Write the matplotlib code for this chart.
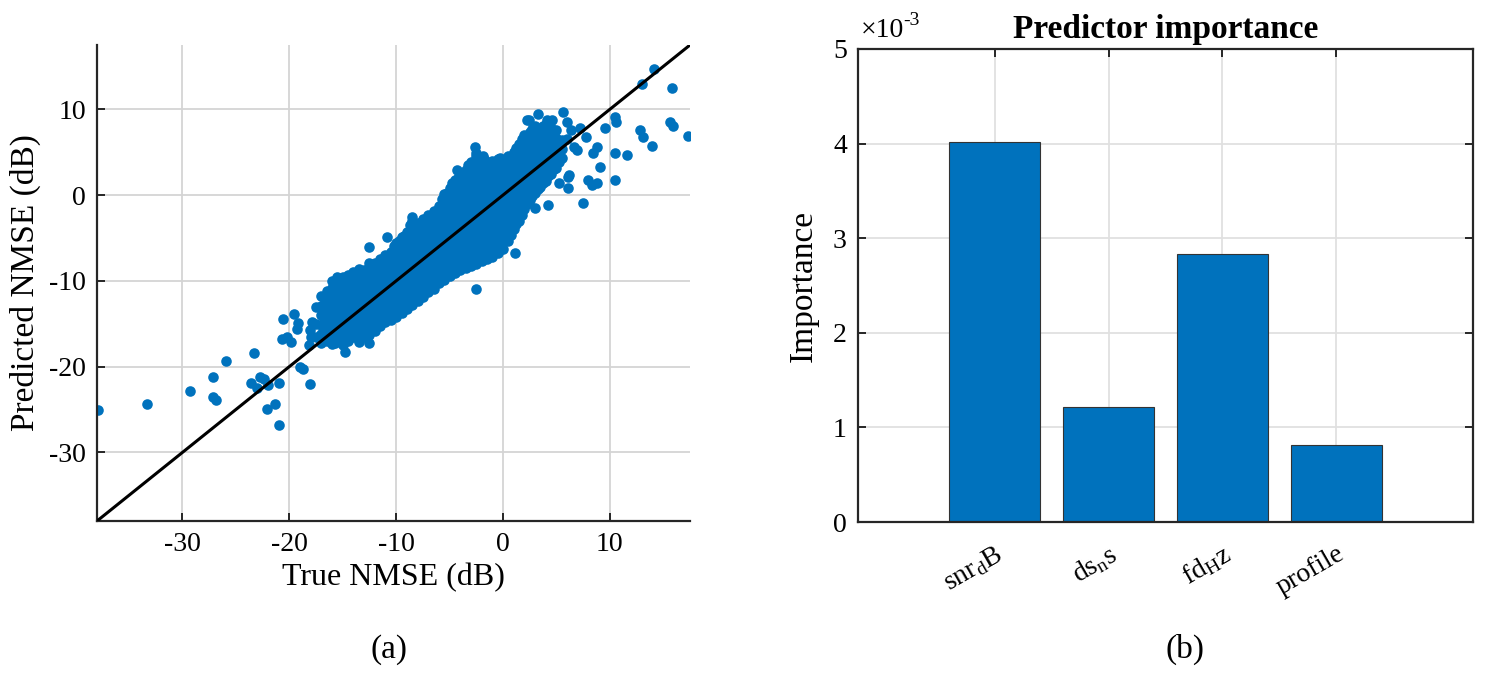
import numpy as np
import matplotlib.pyplot as plt
from matplotlib.ticker import FuncFormatter

plt.rcParams['font.family'] = ['Liberation Serif', 'DejaVu Serif']
plt.rcParams['mathtext.fontset'] = 'custom'
plt.rcParams['mathtext.rm'] = 'Liberation Serif'
plt.rcParams['mathtext.it'] = 'Liberation Serif:italic'
plt.rcParams['axes.unicode_minus'] = False

# ---- panel (a): true vs predicted NMSE (dB) ----
# dense core of the cloud, one column per true-NMSE value
core = {
    -17.0: [-17.3, -16.2, -15.1, -14.0, -12.9, -11.8],
    -16.5: [-17.0, -15.8, -14.6, -13.5, -12.3, -11.2],
    -16.0: [-17.4, -16.3, -15.2, -14.1, -13.0, -11.9, -10.8, -10.0],
    -15.5: [-16.9, -15.7, -14.6, -13.5, -12.4, -11.3, -10.2, -9.5],
    -15.0: [-17.5, -16.4, -15.2, -14.0, -12.9, -11.8, -10.7, -9.6],
    -14.5: [-17.0, -15.9, -14.8, -13.7, -12.6, -11.5, -10.4, -9.3],
    -14.0: [-16.6, -15.4, -14.2, -13.1, -12.0, -10.9, -9.8, -9.0],
    -13.5: [-17.1, -16.0, -14.9, -13.7, -12.6, -11.5, -10.4, -9.3, -8.6],
    -13.0: [-16.6, -15.4, -14.3, -13.2, -12.0, -10.9, -9.8, -8.7],
    -12.5: [-16.3, -15.2, -14.0, -12.9, -11.8, -10.7, -9.5, -8.4, -7.9],
    -12.0: [-15.8, -14.6, -13.5, -12.4, -11.3, -10.1, -9.0, -7.9],
    -11.5: [-15.3, -14.1, -13.0, -11.9, -10.8, -9.7, -8.5, -7.4],
    -11.0: [-14.8, -13.6, -12.5, -11.4, -10.3, -9.1, -8.0, -7.0],
    -10.5: [-14.6, -13.4, -12.3, -11.1, -10.0, -8.9, -7.7, -6.6],
    -10.0: [-14.2, -13.1, -11.9, -10.8, -9.7, -8.5, -7.4, -6.3, -5.6],
    -9.5: [-13.8, -12.7, -11.5, -10.4, -9.3, -8.1, -7.0, -5.9, -4.9],
    -9.0: [-13.3, -12.1, -11.0, -9.9, -8.7, -7.6, -6.5, -5.3, -4.3],
    -8.5: [-12.8, -11.7, -10.6, -9.4, -8.3, -7.2, -6.0, -4.9, -3.8, -3.0],
    -8.0: [-12.3, -11.2, -10.0, -8.9, -7.8, -6.6, -5.5, -4.4, -3.3],
    -7.5: [-11.9, -10.7, -9.6, -8.4, -7.3, -6.2, -5.0, -3.9, -2.8],
    -7.0: [-11.3, -10.2, -9.0, -7.9, -6.8, -5.6, -4.5, -3.4, -2.3],
    -6.5: [-10.9, -9.7, -8.6, -7.4, -6.3, -5.2, -4.0, -2.9, -1.8],
    -6.0: [-10.3, -9.2, -8.0, -6.9, -5.8, -4.6, -3.5, -2.4, -1.3],
    -5.5: [-9.9, -8.7, -7.6, -6.4, -5.3, -4.2, -3.0, -1.9, -0.8, 0.1],
    -5.0: [-9.4, -8.2, -7.1, -6.0, -4.8, -3.7, -2.6, -1.4, -0.3, 0.8],
    -4.5: [-9.1, -7.9, -6.8, -5.6, -4.5, -3.4, -2.2, -1.1, 0.0, 1.2, 1.8],
    -4.0: [-8.7, -7.5, -6.4, -5.3, -4.1, -3.0, -1.9, -0.7, 0.4, 1.5, 2.4],
    -3.5: [-8.5, -7.3, -6.2, -5.0, -3.9, -2.8, -1.6, -0.5, 0.6, 1.8, 2.9],
    -3.0: [-8.3, -7.1, -6.0, -4.9, -3.7, -2.6, -1.5, -0.3, 0.8, 1.9, 3.0, 3.9],
    -2.5: [-8.0, -6.8, -5.7, -4.6, -3.4, -2.3, -1.2, 0.0, 1.1, 2.2, 3.4, 4.5],
    -2.0: [-7.7, -6.6, -5.4, -4.3, -3.2, -2.0, -0.9, 0.2, 1.4, 2.5, 3.6, 4.4],
    -1.5: [-7.5, -6.3, -5.2, -4.1, -2.9, -1.8, -0.7, 0.5, 1.6, 2.7, 3.8],
    -1.0: [-7.2, -6.1, -4.9, -3.8, -2.7, -1.5, -0.4, 0.7, 1.9, 3.0, 4.0],
    -0.5: [-6.8, -5.6, -4.5, -3.4, -2.2, -1.1, 0.0, 1.2, 2.3, 3.4, 4.2],
    0.0: [-6.3, -5.2, -4.0, -2.9, -1.8, -0.6, 0.5, 1.6, 2.8, 3.9],
    0.5: [-5.4, -4.2, -3.1, -2.0, -0.8, 0.3, 1.4, 2.6, 3.7, 4.6],
    1.0: [-4.0, -2.9, -1.7, -0.6, 0.5, 1.7, 2.8, 3.9, 5.0],
    1.5: [-3.0, -1.9, -0.8, 0.4, 1.5, 2.6, 3.8, 4.9, 5.9],
    2.0: [-1.6, -0.5, 0.7, 1.8, 2.9, 4.1, 5.2, 6.3, 7.0],
    2.5: [-0.6, 0.5, 1.6, 2.8, 3.9, 5.0, 6.2, 7.3],
    3.0: [0.2, 1.3, 2.5, 3.6, 4.7, 5.9, 7.0, 8.1],
    3.5: [0.9, 2.0, 3.2, 4.3, 5.4, 6.6, 7.7],
    4.0: [1.7, 2.9, 4.0, 5.1, 6.3, 7.4, 8.3],
    4.5: [2.5, 3.6, 4.7, 5.9, 7.0, 7.8],
    5.0: [3.2, 4.4, 5.5, 6.6],
    5.5: [4.3, 5.4, 6.4],
}

# in-between columns that close the gaps of the core
core_mid = {
    -16.75: [-16.6, -15.4, -14.3, -13.2, -12.0],
    -16.25: [-16.8, -15.7, -14.6, -13.5, -12.4, -11.3],
    -15.75: [-17.2, -16.1, -15.0, -13.9, -12.8, -11.7, -10.6],
    -15.25: [-16.9, -15.8, -14.6, -13.5, -12.4, -11.3, -10.2],
    -14.75: [-16.9, -15.7, -14.6, -13.5, -12.3, -11.2, -10.1],
    -14.25: [-16.2, -15.1, -14.0, -12.8, -11.7, -10.6, -9.5],
    -13.75: [-16.5, -15.4, -14.3, -13.1, -12.0, -10.9, -9.8],
    -13.25: [-16.0, -14.9, -13.8, -12.6, -11.5, -10.4, -9.3],
    -12.75: [-15.8, -14.7, -13.5, -12.4, -11.3, -10.2, -9.0],
    -12.25: [-15.3, -14.2, -13.0, -11.9, -10.8, -9.6, -8.5],
    -11.75: [-14.8, -13.7, -12.5, -11.4, -10.3, -9.1, -8.0],
    -11.25: [-14.3, -13.2, -12.0, -10.9, -9.8, -8.6, -7.5],
    -10.75: [-14.0, -12.9, -11.7, -10.6, -9.5, -8.3, -7.2],
    -10.25: [-13.7, -12.5, -11.4, -10.3, -9.1, -8.0, -6.9, -5.9],
    -9.75: [-13.3, -12.2, -11.0, -9.9, -8.8, -7.6, -6.5, -5.4],
    -9.25: [-12.8, -11.6, -10.5, -9.4, -8.2, -7.1, -6.0, -4.8],
    -8.75: [-12.3, -11.2, -10.0, -8.9, -7.8, -6.6, -5.5, -4.4, -3.5],
    -8.25: [-11.8, -10.7, -9.5, -8.4, -7.3, -6.1, -5.0, -3.9],
    -7.75: [-11.4, -10.2, -9.1, -7.9, -6.8, -5.7, -4.5, -3.4],
    -7.25: [-10.8, -9.7, -8.5, -7.4, -6.3, -5.1, -4.0, -2.9],
    -6.75: [-10.4, -9.2, -8.1, -6.9, -5.8, -4.7, -3.5, -2.4],
    -6.25: [-9.8, -8.7, -7.5, -6.4, -5.3, -4.1, -3.0, -1.9],
    -5.75: [-9.4, -8.2, -7.1, -5.9, -4.8, -3.7, -2.5, -1.4, -0.4],
    -5.25: [-8.9, -7.7, -6.6, -5.5, -4.3, -3.2, -2.1, -0.9, 0.2],
    -4.75: [-8.6, -7.4, -6.3, -5.1, -4.0, -2.9, -1.7, -0.6, 0.6, 1.4],
    -4.25: [-8.2, -7.0, -5.9, -4.8, -3.6, -2.5, -1.4, -0.2, 0.9, 2.0],
    -3.75: [-8.0, -6.8, -5.7, -4.5, -3.4, -2.3, -1.1, 0.0, 1.2, 2.3],
    -3.25: [-7.7, -6.6, -5.4, -4.3, -3.2, -2.0, -0.9, 0.2, 1.4, 2.5, 3.5],
    -2.75: [-7.4, -6.3, -5.2, -4.0, -2.9, -1.8, -0.6, 0.5, 1.6, 2.8, 3.9],
    -2.25: [-7.2, -6.0, -4.9, -3.8, -2.6, -1.5, -0.4, 0.8, 1.9, 3.0, 4.0],
    -1.75: [-6.9, -5.8, -4.6, -3.5, -2.4, -1.2, -0.1, 1.0, 2.2, 3.3, 4.2],
    -1.25: [-6.7, -5.6, -4.4, -3.3, -2.2, -1.0, 0.1, 1.2, 2.4, 3.5],
    -0.75: [-6.4, -5.2, -4.1, -3.0, -1.8, -0.7, 0.5, 1.6, 2.7, 3.8],
    -0.25: [-5.8, -4.7, -3.5, -2.4, -1.3, -0.1, 1.0, 2.1, 3.3],
    0.25: [-4.8, -3.7, -2.5, -1.4, -0.3, 0.9, 2.0, 3.1, 4.2],
    0.75: [-4.6, -3.5, -2.3, -1.2, -0.1, 1.1, 2.2, 3.3, 4.4],
    1.25: [-3.4, -2.3, -1.2, 0.0, 1.1, 2.2, 3.4, 4.5, 5.5],
    1.75: [-2.3, -1.2, 0.0, 1.1, 2.2, 3.4, 4.5, 5.6, 6.5],
    2.25: [-1.0, 0.1, 1.2, 2.4, 3.5, 4.6, 5.8, 6.8],
    2.75: [-0.1, 1.0, 2.1, 3.3, 4.4, 5.5, 6.7, 7.7],
    3.25: [0.7, 1.8, 3.0, 4.1, 5.2, 6.4, 7.5],
    3.75: [1.4, 2.5, 3.7, 4.8, 5.9, 7.1, 8.0],
    4.25: [2.2, 3.3, 4.4, 5.6, 6.7, 7.7],
    4.75: [3.0, 4.1, 5.2, 6.3, 7.3],
    5.25: [3.8, 4.9, 6.0],
}

# scattered points outside the core
sparse_true = [-37.9, -33.3, -29.3, -27.1, -27.1, -26.9, -25.9, -23.3, -23.6, -22.7,
               -22.4, -23.05, -22.0, -21.0, -22.1, -21.3, -21.0, -19.0, -18.7, -18.1,
               -20.6, -19.6, -19.2, -19.3, -20.7, -20.25, -19.8, -18.1, -17.9, -18.2,
               -17.5, -17.5, -17.5, -18.0, -16.8, -14.8, -12.5, -12.5, -10.9, -8.55,
               -4.35, -2.6, -2.5, -1.85, -0.3, 0.65, 1.3, 2.65, 2.2, 2.4,
               3.3, 4.1, 4.55, 3.8, 2.8, 5.0, 5.6, 5.95, 5.95, 6.4,
               7.2, 7.8, 8.8, 8.45, 6.9, 6.6, 9.1, 10.5, 10.6, 9.5,
               10.5, 11.6, 10.5, 8.0, 8.8, 8.3, 7.5, 6.1, 6.2, 6.1,
               5.2, 4.2, 3.0, 1.1, -2.5, 12.8, 13.1, 13.9, 13.0, 14.1,
               15.8, 15.6, 15.9, 17.3]
sparse_pred = [-25.0, -24.3, -22.8, -21.2, -23.5, -23.9, -19.3, -18.45, -21.9, -21.2,
               -21.4, -22.5, -22.1, -21.9, -24.9, -24.4, -26.8, -20.0, -20.3, -22.0,
               -14.5, -13.9, -14.9, -15.6, -16.8, -16.6, -17.1, -15.7, -14.8, -17.5,
               -13.0, -15.0, -16.5, -16.5, -13.8, -18.3, -17.3, -6.0, -4.85, -2.5,
               2.9, 5.6, 4.9, 4.5, 4.3, 4.3, 5.25, 6.4, 8.75, 8.75,
               9.5, 8.75, 8.75, 6.4, 6.4, 7.6, 9.7, 8.55, 6.5, 7.6,
               7.8, 6.8, 5.6, 4.9, 5.25, 5.6, 3.3, 9.1, 8.55, 7.8,
               4.9, 4.7, 1.75, 1.75, 1.4, 1.2, -0.95, 0.8, 2.3, 2.15,
               1.4, -1.15, -1.5, -6.7, -10.9, 7.6, 6.8, 5.7, 13.0, 14.7,
               12.45, 8.55, 8.05, 6.9]

true_nmse = list(sparse_true)
pred_nmse = list(sparse_pred)
for cols in (core, core_mid):
    for xt, ys in cols.items():
        for yp in ys:
            true_nmse.append(xt)
            pred_nmse.append(yp)

# ---- panel (b): predictor importance ----
predictors = ['$\\mathrm{snr}_{\\mathrm{d}}\\mathrm{B}$', '$\\mathrm{ds}_{\\mathrm{n}}\\mathrm{s}$',
              '$\\mathrm{fd}_{\\mathrm{H}}\\mathrm{z}$', 'profile']
importance = [4.02e-3, 1.22e-3, 2.83e-3, 0.81e-3]

blue = '#0072BD'
W, H = 1487, 676
fig = plt.figure(figsize=(W / 100, H / 100), dpi=100)

ax1 = fig.add_axes([97 / W, 1 - 521 / H, 593 / W, 476 / H])
ax1.scatter(true_nmse, pred_nmse, s=58, color=blue, linewidths=0, zorder=2)
ax1.set_xlim(-38, 17.5)
ax1.set_ylim(-38, 17.5)
lims = ax1.get_xlim()
ax1.plot(lims, lims, color='black', lw=2.2, zorder=3)
ax1.set_xticks([-30, -20, -10, 0, 10])
ax1.set_yticks([-30, -20, -10, 0, 10])
ax1.grid(True, color='#d4d4d4', lw=1.3, zorder=0)
ax1.set_axisbelow(True)
for side in ['top', 'right']:
    ax1.spines[side].set_visible(False)
for side in ['left', 'bottom']:
    ax1.spines[side].set_color('#262626')
    ax1.spines[side].set_linewidth(1.6)
ax1.tick_params(direction='in', length=6, width=1.4, labelsize=20, color='#262626', pad=8)
ax1.set_xlabel('True NMSE (dB)', fontsize=23, labelpad=4)
ax1.set_ylabel('Predicted NMSE (dB)', fontsize=24, labelpad=6)

ax2 = fig.add_axes([858 / W, 1 - 522 / H, 615 / W, 473 / H])
pos = np.arange(1, len(importance) + 1)
ax2.bar(pos, importance, width=0.8, color=blue, edgecolor='#333333', lw=0.8, zorder=2)
ax2.set_xlim(-0.2, 5.2)
ax2.set_ylim(0, 5e-3)
ax2.set_xticks(pos)
ax2.set_xticklabels(predictors, rotation=30, ha='right', rotation_mode='anchor', fontsize=21)
ax2.set_yticks(np.arange(0, 6) * 1e-3)
ax2.yaxis.set_major_formatter(FuncFormatter(lambda v, p: '%d' % round(v * 1e3)))
ax2.grid(True, color='#e0e0e0', lw=1.3, zorder=0)
ax2.set_axisbelow(True)
for side in ax2.spines:
    ax2.spines[side].set_color('#262626')
    ax2.spines[side].set_linewidth(1.6)
ax2.tick_params(direction='in', length=6, width=1.4, labelsize=20, color='#262626',
                top=True, right=True, pad=8)
ax2.tick_params(axis='x', pad=14)
ax2.set_ylabel('Importance', fontsize=24, labelpad=10)
ax2.set_title('Predictor importance', fontsize=24, fontweight='bold', pad=8)
ax2.text(0.005, 1.012, '\u00d710', transform=ax2.transAxes, fontsize=20,
         ha='left', va='bottom')
ax2.annotate('-3', xy=(0.005, 1.012), xycoords='axes fraction', xytext=(30.5, 10),
             textcoords='offset points', fontsize=14, ha='left', va='bottom')

fig.text(389 / W, 1 - 650 / H, '(a)', ha='center', va='center', fontsize=24)
fig.text(1185 / W, 1 - 649 / H, '(b)', ha='center', va='center', fontsize=24)

fig.savefig('out.png', dpi=100)
